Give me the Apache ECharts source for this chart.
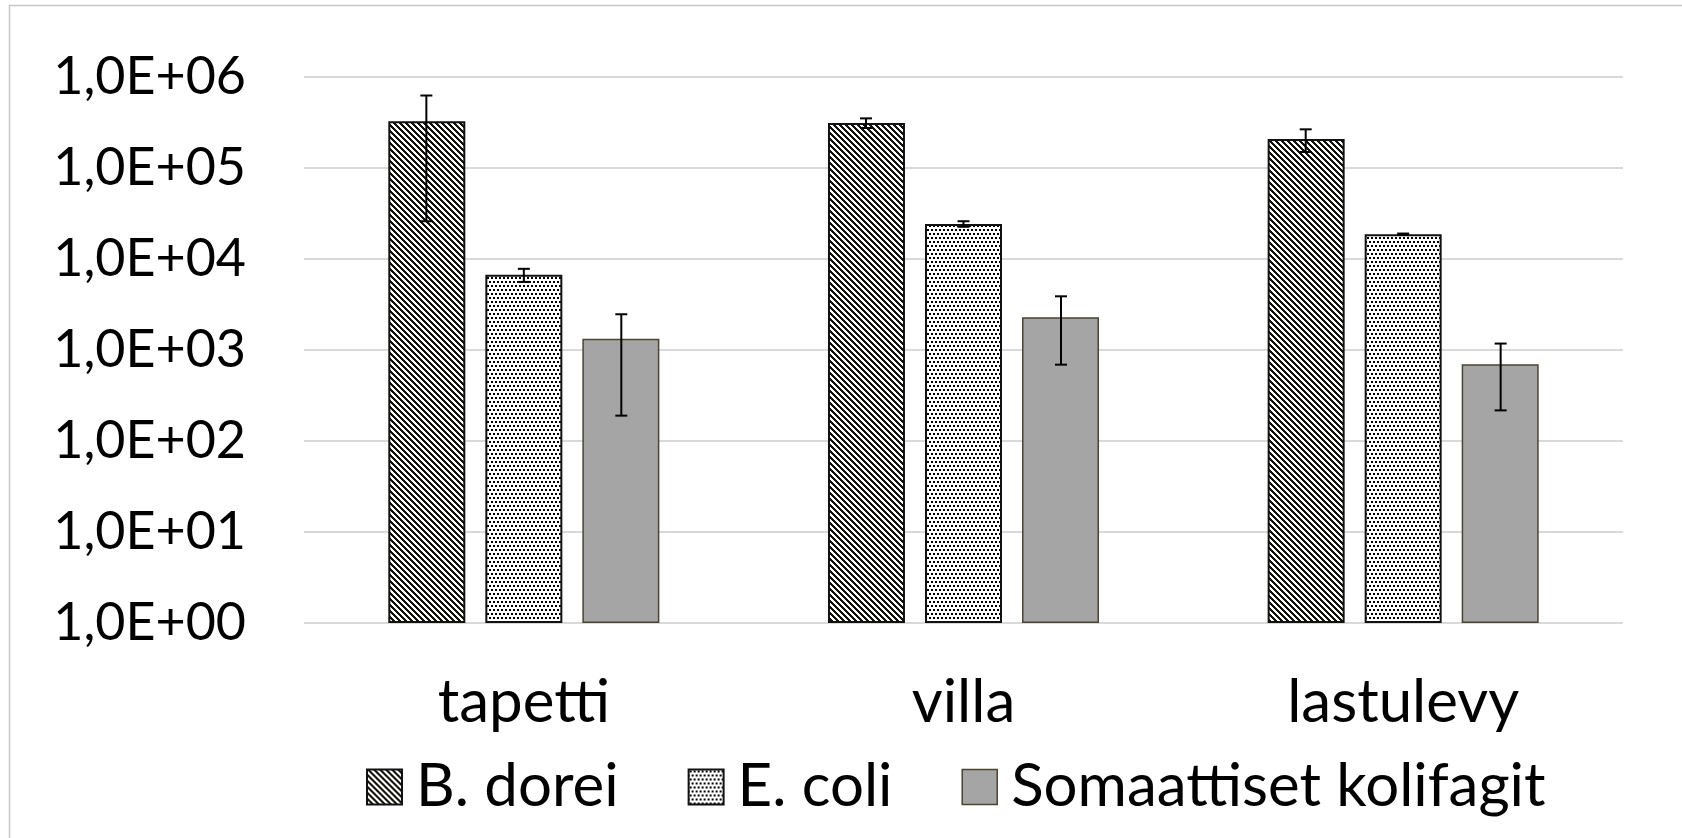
<!DOCTYPE html>
<html>
<head>
<meta charset="utf-8">
<script src="https://cdn.jsdelivr.net/npm/echarts@6/dist/echarts.min.js"></script>
<style>
html,body{margin:0;padding:0;background:#fff;}
#chart{width:1682px;height:838px;}
</style>
</head>
<body>
<div id="chart"></div>
<script>
// ---- data ----
var categories = ['tapetti', 'villa', 'lastulevy'];
var seriesNames = ['B. dorei', 'E. coli', 'Somaattiset kolifagit'];
var bDorei = [326000, 313000, 208000];
var bDoreiErr = [300000, 38000, 58000];
var eColi = [6700, 24300, 18700];
var eColiErr = [1100, 1700, 350];
var soma = [1330, 2290, 697];
var somaErr = [1140, 1600, 480];
var yTickLabels = ['1,0E+00', '1,0E+01', '1,0E+02', '1,0E+03', '1,0E+04', '1,0E+05', '1,0E+06'];

// ---- patterns ----
function stripePattern() {
  var c = document.createElement('canvas');
  c.width = 6; c.height = 6;
  var g = c.getContext('2d');
  g.fillStyle = '#ffffff'; g.fillRect(0, 0, 6, 6);
  g.fillStyle = '#14120c';
  for (var y = 0; y < 6; y++) {
    for (var k = 0; k < 3; k++) {
      g.fillRect((y + k) % 6, y, 1, 1);
    }
  }
  return c;
}
function dotPattern() {
  var c = document.createElement('canvas');
  c.width = 4; c.height = 8;
  var g = c.getContext('2d');
  g.fillStyle = '#ffffff'; g.fillRect(0, 0, 4, 8);
  g.fillStyle = '#000000';
  g.fillRect(1, 1, 2, 2);
  g.fillRect(3, 5, 1, 2);
  g.fillRect(0, 5, 1, 2);
  return c;
}

var FONT = 'Lato';
var stripeColor = { image: stripePattern(), repeat: 'repeat' };
var dotColor = { image: dotPattern(), repeat: 'repeat' };

var chart = echarts.init(document.getElementById('chart'), null, { renderer: 'canvas' });

var barStyles = [
  { color: stripeColor, borderColor: '#111111', borderWidth: 2 },
  { color: dotColor, borderColor: '#111111', borderWidth: 2 },
  { color: '#a5a5a5', borderColor: '#4a4430', borderWidth: 1.5 }
];
var values = [bDorei, eColi, soma];
var errors = [bDoreiErr, eColiErr, somaErr];

var series = [];
for (var s = 0; s < 3; s++) {
  series.push({
    name: seriesNames[s],
    type: 'bar',
    data: values[s],
    barWidth: 77,
    barGap: '26%',
    itemStyle: barStyles[s],
    emphasis: { disabled: true },
    z: 2
  });
}
for (var s2 = 0; s2 < 3; s2++) {
  (function (si) {
    var d = [];
    for (var i = 0; i < categories.length; i++) {
      d.push([i, values[si][i], values[si][i] - errors[si][i], values[si][i] + errors[si][i]]);
    }
    series.push({
      type: 'custom',
      name: 'err' + si,
      data: d,
      z: 10,
      silent: true,
      renderItem: function (params, api) {
        var band = api.size([1, 0])[0];
        var offset = (si - 1) * band * 0.2217;
        var lo = api.coord([api.value(0), api.value(2)]);
        var hi = api.coord([api.value(0), api.value(3)]);
        var x = lo[0] + offset;
        var cap = 6;
        var st = { stroke: '#000000', lineWidth: 2 };
        return {
          type: 'group',
          children: [
            { type: 'line', shape: { x1: x, y1: lo[1], x2: x, y2: hi[1] }, style: st },
            { type: 'line', shape: { x1: x - cap, y1: lo[1], x2: x + cap, y2: lo[1] }, style: st },
            { type: 'line', shape: { x1: x - cap, y1: hi[1], x2: x + cap, y2: hi[1] }, style: st }
          ]
        };
      }
    });
  })(s2);
}

var option = {
  backgroundColor: '#ffffff',
  animation: false,
  graphic: [{
    type: 'rect',
    shape: { x: 9.5, y: 5.5, width: 1700, height: 900 },
    style: { fill: 'none', stroke: '#c8c8c8', lineWidth: 1.5 },
    silent: true, z: -1
  }],
  grid: { left: 304, right: 59, top: 77, bottom: 215, containLabel: false },
  legend: {
    data: seriesNames.map(function (n, i) {
      return { name: n, icon: 'rect', itemStyle: barStyles[i] };
    }),
    left: 361,
    top: 751,
    itemWidth: 35,
    itemHeight: 35,
    itemGap: 69,
    selectedMode: false,
    textStyle: { fontFamily: FONT, fontSize: 60, lineHeight: 62, color: '#000000', padding: [0, 0, 0, 9] }
  },
  xAxis: {
    type: 'category',
    data: categories,
    axisLine: { show: false },
    axisTick: { show: false },
    axisLabel: { fontFamily: FONT, fontSize: 60, color: '#000000', margin: 50 }
  },
  yAxis: {
    type: 'log',
    logBase: 10,
    min: 1,
    max: 1000000,
    interval: 1,
    axisLine: { show: false },
    axisTick: { show: false },
    splitLine: { show: true, lineStyle: { color: '#d9d9d9', width: 2 } },
    axisLabel: {
      fontFamily: FONT, fontSize: 52, color: '#000000', margin: 58,
      formatter: function (v) {
        var idx = Math.round(Math.log10(v));
        return yTickLabels[idx];
      }
    }
  },
  series: series
};
chart.setOption(option);
</script>
</body>
</html>
